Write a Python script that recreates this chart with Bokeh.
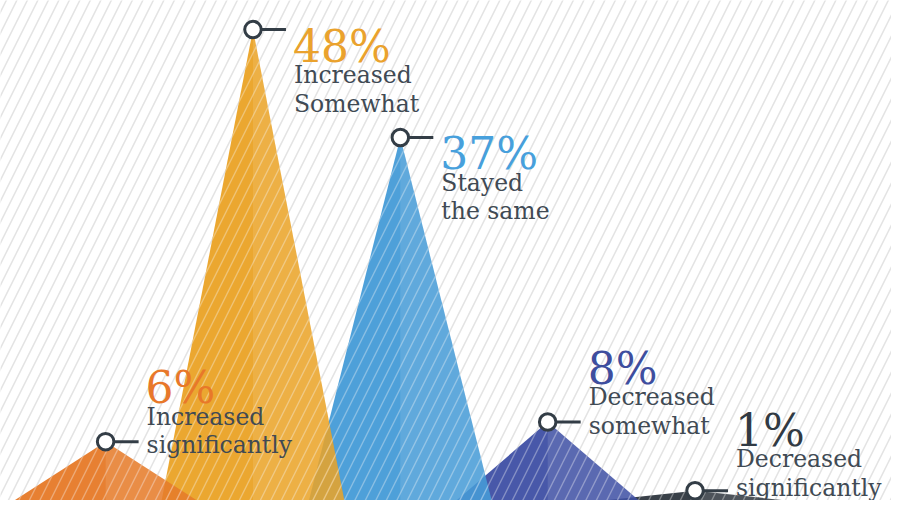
from bokeh.plotting import figure
from bokeh.models import ColumnDataSource, Range1d
from bokeh.core.properties import value
from bokeh.embed import file_html
from bokeh.resources import INLINE

# ---- data ----
categories = ["Increased significantly", "Increased Somewhat", "Stayed the same",
              "Decreased somewhat", "Decreased significantly"]
label_line1 = ["Increased", "Increased", "Stayed", "Decreased", "Decreased"]
label_line2 = ["significantly", "Somewhat", "the same", "somewhat", "significantly"]
values = [6, 48, 37, 8, 1]
pct_labels = ["6%", "48%", "37%", "8%", "1%"]
fill_colors = ["#e36a0e", "#e8980c", "#2f8fd2", "#283b9a", "#161f28"]
text_colors = ["#e8782a", "#eaa22d", "#47a0dc", "#3e4e9e", "#313a43"]

DARK = "#333d46"
LABEL = "#404a54"

W, H = 891, 500
HALF = 0.62  # half base width of each peak, in category units
YMAX = 516 / 10.125

xs_idx = list(range(len(values)))

p = figure(width=W, height=H, output_backend="svg", toolbar_location=None,
           x_range=Range1d(-107 / 150, (907 - 107) / 150),
           y_range=Range1d(0, YMAX),
           min_border=0, min_border_left=0, min_border_right=0,
           min_border_top=0, min_border_bottom=0)
p.axis.visible = False
p.grid.visible = False
p.outline_line_color = None
p.background_fill_color = "white"
p.border_fill_color = "white"

# striped background
p.quad(left=[p.x_range.start - 1], right=[p.x_range.end + 1],
       bottom=[p.y_range.start - 5], top=[p.y_range.end + 5],
       fill_alpha=0, line_alpha=0,
       hatch_pattern="/", hatch_color="#e4e4e4", hatch_alpha=1,
       hatch_scale=21, hatch_weight=1.6)

# peaks, drawn right to left so left ones are on top
for i in reversed(xs_idx):
    v = values[i]
    src = ColumnDataSource(dict(xs=[[i - HALF, i, i + HALF]], ys=[[0, v, 0]]))
    p.patches("xs", "ys", source=src, fill_color=fill_colors[i], fill_alpha=0.85,
              line_alpha=0, hatch_pattern="/", hatch_color="white",
              hatch_alpha=0.35, hatch_scale=21, hatch_weight=1.4)
    src_r = ColumnDataSource(dict(xs=[[i, i + HALF, i]], ys=[[v, 0, 0]]))
    p.patches("xs", "ys", source=src_r, fill_color="white", fill_alpha=0.1,
              line_alpha=0)

# markers and labels
big = [v >= 20 for v in values]
off_pct = []
for v, b in zip(values, big):
    o = 16.5 if b else -54
    cy = H * (1 - v / YMAX)
    # keep the label block inside the canvas
    o = min(o, (H - 13) - cy - 57.5)
    off_pct.append(o)
off_l1 = [o + 29 for o in off_pct]
off_l2 = [o + 57.5 for o in off_pct]

src = ColumnDataSource(dict(x=xs_idx, y=values, pct=pct_labels, l1=label_line1,
                            l2=label_line2, tc=text_colors, op=off_pct,
                            o1=off_l1, o2=off_l2))

p.ray(x="x", y="y", length=33, length_units="screen", angle=0,
      line_width=3, line_color=DARK, source=src)
p.scatter(x="x", y="y", size=16.5, marker="circle", fill_color="white",
          line_color=DARK, line_width=3, source=src)

p.text(x="x", y="y", text="pct", x_offset=40, y_offset="op", source=src,
       text_font=value("DejaVu Serif"), text_font_size="44px",
       text_color="tc", text_baseline="alphabetic", text_align="left")
p.text(x="x", y="y", text="l1", x_offset=41, y_offset="o1", source=src,
       text_font=value("DejaVu Serif"), text_font_size="23.5px",
       text_color=LABEL, text_baseline="alphabetic", text_align="left")
p.text(x="x", y="y", text="l2", x_offset=41, y_offset="o2", source=src,
       text_font=value("DejaVu Serif"), text_font_size="23.5px",
       text_color=LABEL, text_baseline="alphabetic", text_align="left")

open("out.html", "w").write(file_html(p, INLINE))
